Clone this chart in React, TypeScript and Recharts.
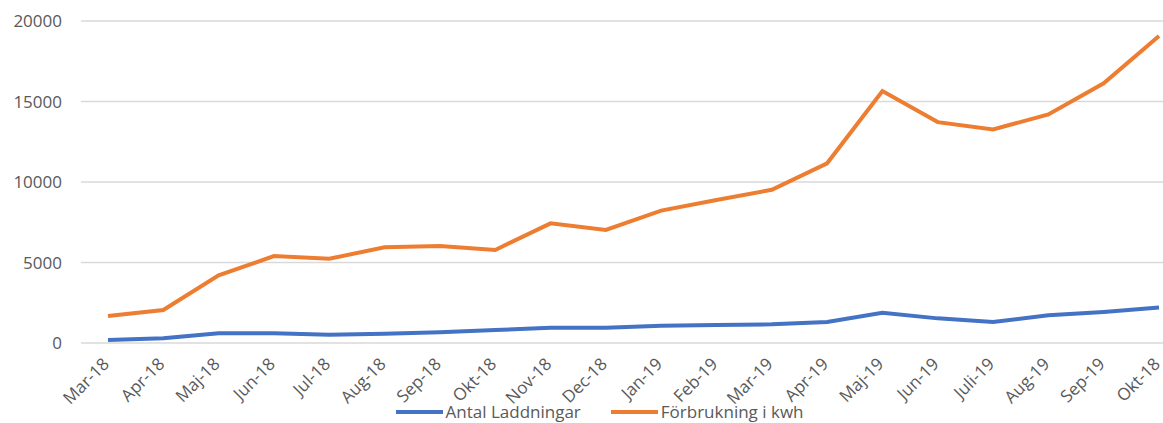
import { LineChart, Line, XAxis, YAxis, CartesianGrid, Legend } from "recharts";

const months = [
  "Mar-18", "Apr-18", "Maj-18", "Jun-18", "Jul-18", "Aug-18", "Sep-18", "Okt-18", "Nov-18", "Dec-18",
  "Jan-19", "Feb-19", "Mar-19", "Apr-19", "Maj-19", "Jun-19", "Juli-19", "Aug-19", "Sep-19", "Okt-18",
];
const laddningar = [
  190, 290, 600, 600, 520, 580, 660, 800, 950, 950,
  1070, 1120, 1160, 1300, 1880, 1530, 1300, 1720, 1930, 2210,
];
const forbrukning = [
  1680, 2050, 4200, 5400, 5230, 5950, 6030, 5780, 7430, 7020,
  8220, 8880, 9520, 11160, 15650, 13720, 13260, 14200, 16130, 19070,
];
const yTicks = [0, 5000, 10000, 15000, 20000];

const BLUE = "#4472C4";
const ORANGE = "#ED7D31";
const FONT = "'Open Sans', sans-serif";

const data = months.map((m, i) => ({
  month: m,
  "Antal Laddningar": laddningar[i],
  "Förbrukning i kwh": forbrukning[i],
}));

function MonthTick({ x, y, payload }: any) {
  return (
    <g transform={`translate(${x - 2},${y + 10})`}>
      <text
        x={0}
        y={0}
        dy="0.35em"
        textAnchor="end"
        transform="rotate(-45)"
        fill="#595959"
        fontSize={17}
        fontFamily={FONT}
      >
        {payload.value}
      </text>
    </g>
  );
}

function LegendContent() {
  const items = [
    { name: "Antal Laddningar", color: BLUE },
    { name: "Förbrukning i kwh", color: ORANGE },
  ];
  return (
    <div style={{ display: "flex", justifyContent: "center", paddingLeft: 66, marginTop: 1, fontFamily: FONT, fontSize: 17, color: "#595959" }}>
      {items.map((it) => (
        <div key={it.name} style={{ display: "flex", alignItems: "center", marginRight: 30 }}>
          <span style={{ display: "inline-block", width: 47, height: 4, background: it.color, marginRight: 3 }} />
          <span>{it.name}</span>
        </div>
      ))}
    </div>
  );
}

export default function App() {
  return (
    <div style={{ position: "absolute", left: 0, top: 0, background: "#fff" }}>
      <LineChart width={1163} height={423} data={data} margin={{ top: 21, right: 0, bottom: 0, left: 0 }}>
        <CartesianGrid vertical={false} stroke="#d9d9d9" strokeWidth={1.5} />
        <XAxis
          dataKey="month"
          interval={0}
          axisLine={false}
          tickLine={false}
          height={56}
          padding={{ left: 27, right: 4 }}
          tick={<MonthTick />}
        />
        <YAxis
          width={81}
          domain={[0, 20000]}
          ticks={yTicks}
          axisLine={false}
          tickLine={false}
          tickMargin={13}
          tick={{ fill: "#595959", fontSize: 17, fontFamily: FONT }}
        />
        <Legend verticalAlign="bottom" height={24} content={<LegendContent />} />
        <Line
          type="linear"
          dataKey="Antal Laddningar"
          stroke={BLUE}
          strokeWidth={4}
          dot={false}
          isAnimationActive={false}
        />
        <Line
          type="linear"
          dataKey="Förbrukning i kwh"
          stroke={ORANGE}
          strokeWidth={4}
          dot={false}
          isAnimationActive={false}
        />
      </LineChart>
    </div>
  );
}
